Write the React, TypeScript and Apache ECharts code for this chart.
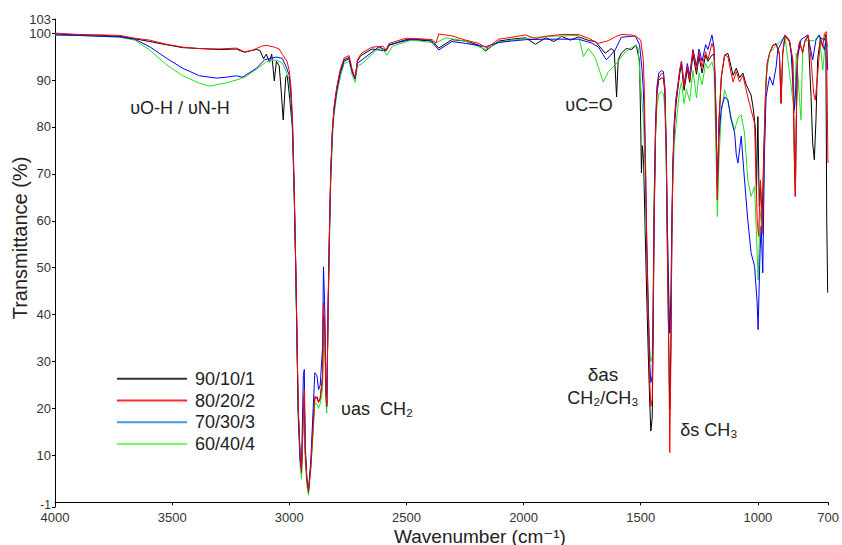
import React, { useEffect, useRef } from "react";
import * as echarts from "echarts";

const seriesNames = ["90/10/1", "80/20/2", "70/30/3", "60/40/4"];
const xTicks = [4000, 3500, 3000, 2500, 2000, 1500, 1000, 700];
const yTicks = [-1, 10, 20, 30, 40, 50, 60, 70, 80, 90, 100, 103];

// [wavenumber (cm-1), transmittance (%)]
const s90_10_1: number[][] = [
  [4000, 99.8], [3900, 99.6], [3800, 99.5], [3723, 99.3], [3660, 98.8], [3596, 98.2], [3523, 97.5],
  [3455, 96.9], [3383, 96.7], [3300, 96.5], [3226, 96.6], [3191, 95.9], [3160, 96.3], [3140, 96.5],
  [3125, 96.3], [3110, 94.5], [3098, 95.5], [3085, 93.8], [3075, 95.5], [3064, 89.8], [3055, 94],
  [3043, 93], [3035, 88], [3026, 81.5], [3015, 90.6], [3009, 91], [2998, 86], [2987, 80],
  [2979, 66], [2972, 49], [2967, 34], [2962, 20], [2954, 10], [2948, 6], [2940, 20], [2936, 23],
  [2932, 11], [2925, 5], [2918, 2.5], [2908, 8], [2898, 17], [2891, 22], [2882, 22.5], [2875, 21.5],
  [2868, 22], [2858, 27], [2854, 40], [2848, 36], [2844, 23], [2840, 20.5], [2834, 42], [2829, 56],
  [2823, 70], [2816, 79], [2809, 84], [2797, 88.3], [2783, 91.8], [2766, 94.3], [2745, 94.8],
  [2731, 91.8], [2719, 90.2], [2709, 94], [2695, 95.2], [2647, 96.6], [2587, 96.2], [2574, 97.4],
  [2502, 98.6], [2447, 98.5], [2390, 98.3], [2362, 96.8], [2340, 97.5], [2306, 98.6], [2247, 98.3],
  [2191, 97.4], [2162, 96.2], [2106, 98.3], [2051, 98.7], [1991, 99], [1949, 97.6], [1906, 99],
  [1870, 98.2], [1838, 99.3], [1800, 98.5], [1766, 99.2], [1720, 98.4], [1694, 98.2], [1651, 95.7],
  [1626, 96.7], [1613, 96.2], [1603, 86.4], [1596, 94.3], [1583, 95.7], [1562, 96.7], [1540, 96.5],
  [1519, 97.4], [1505, 94], [1500, 80], [1497, 70.2], [1493, 76], [1488, 73], [1482, 60], [1475, 45],
  [1468, 32], [1462, 22], [1457, 15.2], [1451, 18], [1447, 35], [1443, 58], [1437, 78], [1431, 87],
  [1423, 90], [1411, 90.4], [1403, 90.4], [1397, 87.5], [1391, 74], [1386, 53], [1380, 32],
  [1376, 19.8], [1371, 34], [1367, 57.4], [1363, 70], [1357, 79.5], [1350, 84.5], [1340, 88.8],
  [1333, 91.5], [1326, 93.3], [1315, 87.8], [1301, 92.3], [1291, 89.5], [1277, 95.5], [1262, 91.2],
  [1251, 95], [1238, 91.5], [1223, 95.3], [1213, 94], [1196, 95.3], [1187, 95.5], [1180, 84],
  [1173, 64.5], [1166, 81], [1156, 90.5], [1142, 95.3], [1128, 95.7], [1114, 92.8], [1106, 91],
  [1092, 92.5], [1078, 90.5], [1064, 91.5], [1050, 89], [1029, 86.8], [1020, 84], [1010, 79.4],
  [1006, 65.9], [1000, 82.2], [994, 63], [989, 68], [982, 60], [974, 76], [967, 88], [960, 93.5],
  [950, 95.7], [936, 97.4], [922, 97.6], [908, 95.5], [901, 85], [894, 95.5], [884, 99.4], [865, 98.2],
  [851, 94], [844, 73], [840, 65.2], [836, 81.5], [830, 95.5], [822, 98], [809, 96], [799, 98.2],
  [785, 99.4], [773, 86.4], [766, 76.5], [759, 73], [752, 81.5], [745, 94.3], [733, 99], [716, 98.5],
  [710, 99.7], [706, 60], [702, 44.7],
];

const s80_20_2: number[][] = [
  [4000, 100], [3900, 99.7], [3800, 99.6], [3723, 99.5], [3660, 98.9], [3596, 98.5], [3523, 97.6],
  [3455, 97], [3383, 96.7], [3300, 96.6], [3226, 96.8], [3191, 96], [3160, 96.3], [3140, 96.7],
  [3119, 97.2], [3098, 97.4], [3064, 97], [3043, 96.6], [3030, 95.5], [3010, 94], [3000, 92],
  [2993, 88.6], [2986, 81.5], [2979, 67.3], [2972, 49.6], [2967, 35.4], [2962, 20.5], [2954, 10.6],
  [2948, 6.4], [2940, 19.1], [2936, 24], [2932, 10.6], [2925, 4.9], [2918, 2.1], [2908, 7.7],
  [2898, 16.2], [2891, 22.6], [2882, 22.2], [2875, 21.2], [2868, 22.3], [2858, 26.2], [2854, 42.5],
  [2848, 37.4], [2844, 23.4], [2840, 20.4], [2834, 42.5], [2829, 56.6], [2823, 70.9], [2816, 79.4],
  [2809, 84.3], [2797, 88.6], [2783, 92.1], [2766, 94.7], [2745, 95.2], [2731, 92.1], [2719, 90.5],
  [2709, 94.3], [2695, 95.5], [2689, 95.8], [2647, 97], [2600, 97.2], [2587, 96.4], [2574, 97.8],
  [2502, 98.9], [2447, 98.8], [2390, 98.6], [2374, 97.9], [2362, 99.8], [2306, 99.4], [2247, 98.5],
  [2191, 97.8], [2157, 96.8], [2106, 98.7], [2051, 99.1], [1991, 99.6], [1949, 98.8], [1906, 99.3],
  [1838, 99.7], [1766, 99.7], [1723, 98.9], [1681, 97.8], [1638, 98.4], [1609, 99.2], [1583, 99.7],
  [1540, 99.6], [1519, 99.2], [1500, 98.5], [1489, 94.3], [1485, 88.6], [1480, 74.4], [1474, 53.2],
  [1468, 39], [1462, 26.2], [1457, 20.4], [1451, 22], [1447, 39], [1443, 60.2], [1437, 78],
  [1431, 87.2], [1423, 90.4], [1411, 91.4], [1403, 91.2], [1397, 87.9], [1391, 74.4], [1386, 53.2],
  [1380, 31.9], [1376, 10.6], [1371, 31.9], [1367, 56.7], [1363, 70.9], [1357, 80.1], [1350, 85.1],
  [1340, 89.3], [1333, 92.1], [1326, 93.9], [1315, 88.6], [1301, 92.8], [1291, 90], [1277, 96.4],
  [1262, 92.1], [1251, 95.7], [1238, 92.8], [1223, 96], [1213, 94.3], [1196, 97.8], [1187, 96.4],
  [1180, 85.1], [1173, 64.5], [1166, 81.5], [1156, 90.7], [1142, 95.3], [1128, 95], [1114, 91.4],
  [1106, 89.6], [1092, 91.8], [1078, 89.6], [1064, 91], [1050, 87.9], [1029, 83.6], [1014, 80.8],
  [1003, 60.2], [997, 56.7], [989, 68.7], [982, 57.4], [974, 74.4], [967, 87.2], [960, 93.6],
  [950, 95.7], [936, 97.4], [922, 97.8], [908, 95.7], [901, 85.1], [894, 95.7], [884, 99.6],
  [865, 98.4], [851, 94.3], [844, 73], [840, 65.2], [836, 81.5], [830, 95.7], [822, 98.2], [809, 95.7],
  [799, 98.4], [785, 99.6], [773, 94.3], [762, 87.2], [755, 85.7], [745, 91.1], [733, 98.4], [723, 97],
  [716, 99.9], [708, 100.3], [704, 86], [701, 72.3],
];

const s70_30_3: number[][] = [
  [4000, 99.6], [3900, 99.5], [3800, 99.3], [3723, 99.2], [3660, 98.7], [3596, 97.1], [3523, 94.6],
  [3455, 92.5], [3383, 90.9], [3311, 90.4], [3268, 90.6], [3226, 90.9], [3200, 90.6], [3140, 92.5],
  [3106, 94.3], [3055, 94.9], [3030, 94.6], [3015, 93], [3000, 91], [2993, 87], [2986, 80], [2979, 66],
  [2972, 49], [2967, 34], [2962, 19], [2954, 9], [2948, 7], [2940, 27], [2936, 28.3], [2932, 12],
  [2925, 5], [2918, 2.5], [2908, 9], [2898, 20], [2891, 27.6], [2882, 27], [2875, 24], [2868, 25],
  [2858, 33], [2854, 50.2], [2848, 40], [2844, 25], [2840, 21], [2834, 43], [2829, 57], [2823, 70],
  [2816, 79], [2809, 83.5], [2797, 87.8], [2783, 91.3], [2766, 94], [2745, 94.5], [2731, 91.6],
  [2719, 90.3], [2709, 93.6], [2689, 94.3], [2617, 97.1], [2587, 96.3], [2574, 97.5], [2477, 98.7],
  [2400, 98.5], [2374, 97.1], [2362, 96.4], [2306, 98.2], [2247, 97.8], [2162, 97.1], [2106, 98],
  [2051, 98.3], [1991, 98.6], [1906, 98.7], [1766, 98.7], [1711, 97.9], [1680, 97], [1647, 94.3],
  [1630, 95.2], [1609, 96.4], [1583, 99.1], [1523, 99.4], [1505, 97.5], [1494, 92], [1489, 88],
  [1482, 78], [1475, 58], [1468, 42], [1462, 30], [1457, 25.5], [1451, 27], [1447, 40], [1443, 62],
  [1437, 80], [1431, 88.5], [1423, 91.5], [1411, 92], [1403, 91.8], [1397, 88.5], [1391, 76],
  [1386, 58], [1380, 42], [1376, 36], [1371, 44], [1367, 60], [1363, 72], [1357, 81], [1350, 86],
  [1340, 89.5], [1333, 92.3], [1326, 94], [1315, 89], [1301, 93.5], [1291, 91], [1277, 96.5],
  [1262, 93], [1251, 96.6], [1238, 94], [1223, 97.5], [1213, 96.5], [1196, 99.6], [1187, 97],
  [1180, 86], [1173, 67.3], [1166, 78], [1156, 84], [1142, 86.4], [1128, 85.7], [1114, 81.5],
  [1099, 78.7], [1092, 74], [1085, 72.3], [1071, 78], [1057, 68.7], [1043, 60.2], [1029, 53.2],
  [1014, 50.3], [1003, 42.5], [999, 36.8], [991, 53], [986, 58.8], [979, 48.9], [972, 74.4],
  [965, 86.4], [950, 90.7], [936, 88.9], [922, 92.8], [915, 96.4], [884, 99.6], [865, 98.4],
  [858, 95.7], [844, 83.6], [830, 95], [816, 98.6], [787, 99.6], [766, 94.3], [752, 98.5], [738, 99.6],
  [716, 96.4], [707, 99.2], [702, 92.1],
];

const s60_40_4: number[][] = [
  [4000, 99.6], [3900, 99.5], [3800, 99.3], [3723, 99.1], [3660, 98.5], [3596, 96.4], [3523, 93.2],
  [3455, 90.9], [3383, 89.3], [3340, 88.7], [3268, 89.4], [3226, 90], [3191, 90.6], [3140, 92.3],
  [3098, 93.9], [3055, 94.3], [3030, 93.6], [3015, 92], [3000, 90], [2993, 86], [2986, 79], [2979, 65],
  [2972, 48], [2967, 33], [2962, 18], [2954, 8], [2948, 5], [2940, 18], [2936, 22], [2932, 9],
  [2925, 3.5], [2918, 1.5], [2908, 7], [2898, 15], [2891, 21], [2882, 21], [2875, 20], [2868, 21],
  [2858, 24], [2854, 38], [2848, 35], [2844, 21.5], [2840, 19], [2834, 40], [2829, 54], [2823, 68],
  [2816, 77.5], [2809, 82.5], [2797, 87], [2783, 90.5], [2766, 93.5], [2745, 94], [2731, 91],
  [2719, 89.5], [2709, 93], [2689, 93.5], [2617, 96.9], [2600, 96.5], [2583, 95.3], [2560, 97.2],
  [2477, 98.5], [2374, 97.9], [2332, 99], [2250, 98.3], [2162, 96.5], [2106, 98], [2051, 98.5],
  [1906, 99.3], [1766, 99.5], [1745, 95], [1723, 96.7], [1694, 94.7], [1660, 89.6], [1638, 91.8],
  [1609, 93.2], [1566, 96], [1523, 97.4], [1511, 96.8], [1502, 90], [1494, 85], [1489, 82],
  [1482, 72], [1475, 55], [1468, 42], [1462, 33], [1457, 30], [1451, 31], [1447, 45], [1443, 65],
  [1437, 78], [1431, 84], [1423, 87], [1411, 87.5], [1403, 87], [1397, 84], [1391, 72], [1386, 58],
  [1380, 45], [1376, 37], [1371, 45], [1367, 58], [1363, 68], [1357, 76], [1350, 80], [1340, 85],
  [1333, 88], [1326, 89.5], [1315, 85], [1305, 88], [1291, 85.5], [1277, 92], [1262, 86.2],
  [1251, 91.5], [1238, 89], [1223, 93.5], [1213, 92.5], [1196, 93.8], [1187, 92], [1180, 78],
  [1173, 60.9], [1166, 73], [1156, 83], [1142, 87.9], [1128, 85.7], [1114, 81.9], [1099, 79.4],
  [1085, 81.9], [1071, 82.6], [1057, 78.7], [1043, 68.7], [1029, 65.2], [1014, 67.3], [1003, 53.2],
  [999, 47.4], [991, 60], [986, 62.5], [979, 57], [972, 75], [965, 91], [950, 95.7], [922, 97.4],
  [884, 99.2], [844, 83], [836, 95.7], [816, 81.5], [809, 96], [799, 98.4], [759, 98.4], [738, 99.6],
  [723, 92.1], [710, 99.2], [702, 97],
];

const seriesData = [s90_10_1, s80_20_2, s70_30_3, s60_40_4];
const lineColors = ["#000000", "#ff0000", "#0000ff", "#22e022"];
const legendColors = ["#333333", "#ff2a2a", "#4f94d6", "#77f566"];
const drawOrder = [0, 3, 2, 1];

const FONT = "'Liberation Sans', Arial, 'DejaVu Sans', sans-serif";

export default function App() {
  const ref = useRef<HTMLDivElement>(null);
  useEffect(() => {
    if (!ref.current) return;
    const chart = echarts.init(ref.current, undefined, { renderer: "svg" });
    const txt = (text: string, x: number, y: number, size = 18) => ({
      type: "text",
      x,
      y,
      style: {
        text,
        fill: "#222",
        font: `${size}px ${FONT}`,
        textAlign: "center",
        textVerticalAlign: "middle",
      },
    });
    chart.setOption({
      animation: false,
      backgroundColor: "#ffffff",
      textStyle: { fontFamily: FONT },
      grid: { left: 55, right: 11.5, top: 19, bottom: 38, containLabel: false },
      legend: {
        left: 112,
        top: 363,
        orient: "vertical",
        icon: "rect",
        itemWidth: 70,
        itemHeight: 2,
        itemGap: 0,
        textStyle: { fontSize: 18, color: "#222", lineHeight: 21.7, padding: [0, 0, 0, 3], fontFamily: FONT },
        data: seriesNames.map((n, i) => ({ name: n, itemStyle: { color: legendColors[i] } })),
      },
      xAxis: {
        type: "value",
        min: 700,
        max: 4000,
        inverse: true,
        splitLine: { show: false },
        axisLine: { lineStyle: { color: "#000", width: 1 } },
        axisTick: { show: true, length: 3, customValues: xTicks, lineStyle: { color: "#000" } },
        axisLabel: {
          customValues: xTicks,
          formatter: (v: number) => String(v),
          color: "#333",
          fontSize: 13,
          lineHeight: 11,
          margin: 5,
          fontFamily: FONT,
        },
      },
      yAxis: {
        type: "value",
        min: -1,
        max: 103,
        splitLine: { show: false },
        axisLine: { show: true, lineStyle: { color: "#000", width: 1 } },
        axisTick: { show: true, length: 3, customValues: yTicks, lineStyle: { color: "#000" } },
        axisLabel: {
          customValues: yTicks,
          formatter: (v: number) => (v === -1 ? "{low|-1}" : String(v)),
          rich: { low: { fontSize: 12, lineHeight: 9, padding: [0, 0, 5, 0], color: "#333" } },
          color: "#333",
          fontSize: 13,
          lineHeight: 10,
          margin: 4,
          fontFamily: FONT,
        },
      },
      graphic: [
        {
          type: "text",
          x: 20,
          y: 238,
          rotation: Math.PI / 2,
          style: {
            text: "Transmittance (%)",
            fill: "#222",
            font: `20px ${FONT}`,
            textAlign: "center",
            textVerticalAlign: "middle",
          },
        },
        txt("Wavenumber (cm⁻¹)", 480, 536, 19),
        txt("υO-H / υN-H", 180, 108),
        txt("υas  CH₂", 377, 409),
        txt("υC=O", 589, 105),
        txt("δas", 603, 374, 19),
        txt("CH₂/CH₃", 603, 398),
        txt("δs CH₃", 709, 430),
      ],
      series: drawOrder.map((i) => ({
        name: seriesNames[i],
        type: "line",
        data: seriesData[i],
        showSymbol: false,
        symbol: "none",
        color: lineColors[i],
        lineStyle: { width: 1, color: lineColors[i] },
        z: 2,
      })),
    });
    return () => chart.dispose();
  }, []);
  return (
    <div
      ref={ref}
      style={{ position: "fixed", left: 0, top: 0, width: 842, height: 545, background: "#fff" }}
    />
  );
}
